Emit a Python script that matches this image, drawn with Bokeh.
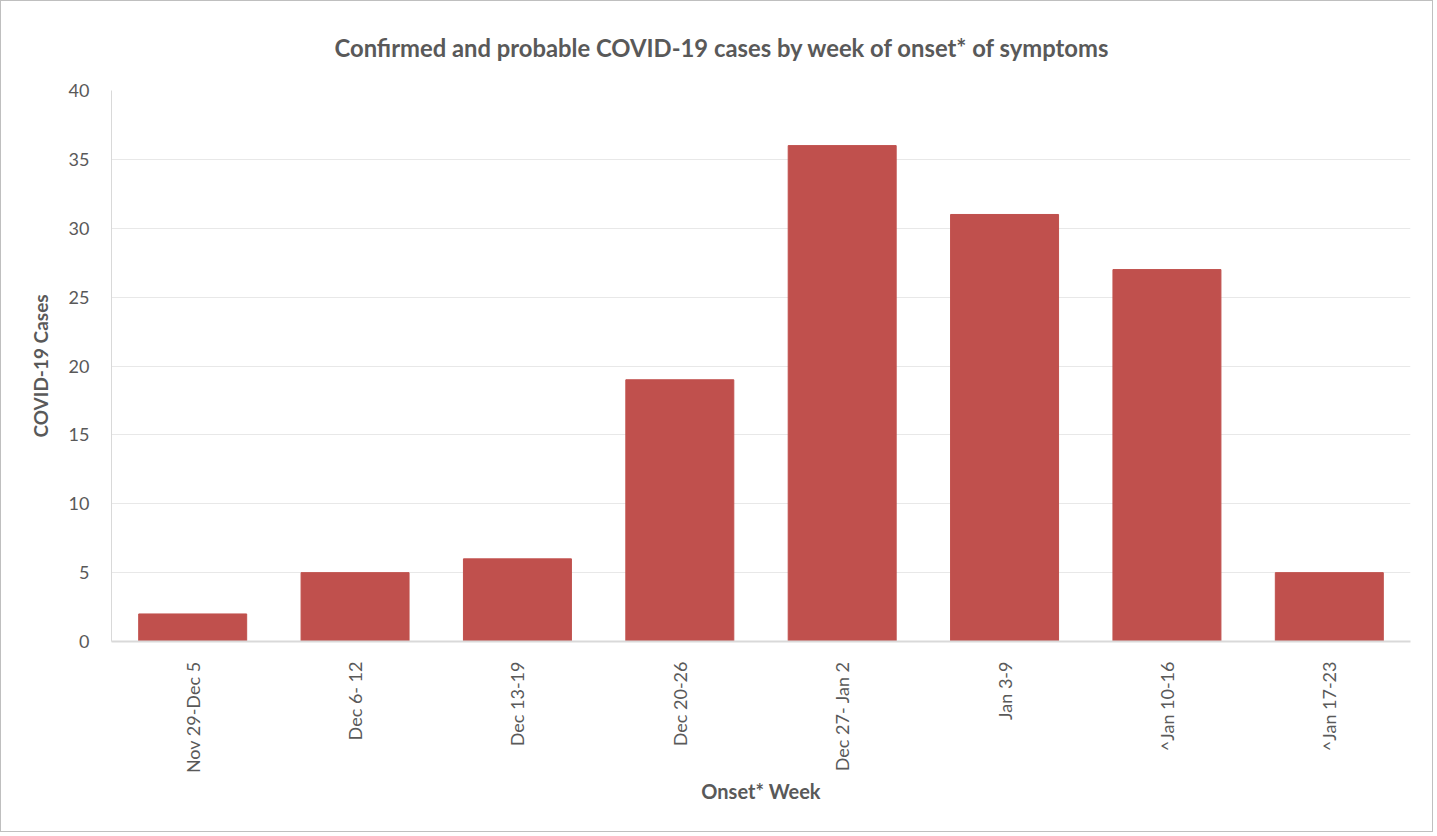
import math
from bokeh.plotting import figure
from bokeh.models import FactorRange, Range1d, SingleIntervalTicker
from bokeh.embed import file_html
from bokeh.resources import INLINE

weeks = ["Nov 29-Dec 5", "Dec 6- 12", "Dec 13-19", "Dec 20-26",
         "Dec 27- Jan 2", "Jan 3-9", "^Jan 10-16", "^Jan 17-23"]
cases = [2, 5, 6, 19, 36, 31, 27, 5]

FONT = "Lato"
TXT = "#595959"

p = figure(x_range=FactorRange(*weeks, range_padding=0), y_range=Range1d(0, 40),
           width=1433, height=832, output_backend="svg", toolbar_location=None,
           title="Confirmed and probable COVID-19 cases by week of onset* of symptoms",
           min_border_left=110, min_border_right=24, min_border_top=89, min_border_bottom=192)

p.vbar(x=weeks, top=cases, width=0.665, fill_color="#C0504D", line_color="#C0504D")

p.title.align = "left"
p.title.text_font = FONT
p.title.text_font_size = "23.8px"
p.title.text_font_style = "bold"
p.title.text_color = TXT
p.title.offset = 223
p.title.standoff = 57

p.outline_line_color = None
p.border_fill_color = "white"
p.background_fill_color = "white"

p.yaxis.ticker = SingleIntervalTicker(interval=5)
p.ygrid.grid_line_color = "#E8E8E8"
p.ygrid.grid_line_width = 1
p.xgrid.grid_line_color = None

for ax in (p.xaxis[0], p.yaxis[0]):
    ax.axis_line_color = "#D9D9D9"
    ax.major_tick_line_color = None
    ax.minor_tick_line_color = None
    ax.major_label_text_font = FONT
    ax.major_label_text_font_size = "18px"
    ax.major_label_text_color = TXT
    ax.axis_label_text_font = FONT
    ax.axis_label_text_font_style = "bold"
    ax.axis_label_text_color = TXT

p.yaxis.axis_label = "COVID-19 Cases"
p.yaxis.axis_label_text_font_size = "19px"
p.yaxis.major_label_standoff = 16
p.yaxis.axis_label_standoff = 14
p.xaxis.axis_label = "Onset* Week"
p.xaxis.axis_label_text_font_size = "20px"
p.xaxis.major_label_orientation = math.pi / 2
p.xaxis.major_label_standoff = 14
p.xaxis.axis_label_standoff = 3
p.xaxis.axis_line_width = 2

p.styles = {"border": "1px solid #BFBFBF"}

open("out.html", "w").write(file_html(p, INLINE))
